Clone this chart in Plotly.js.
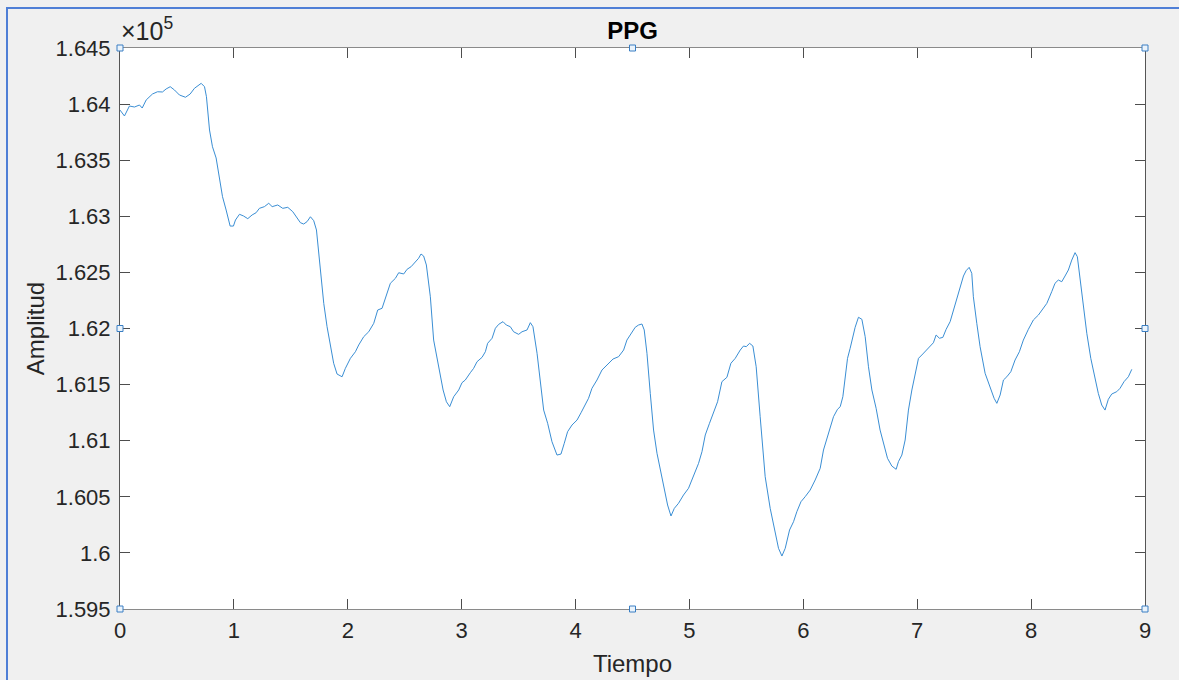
<!DOCTYPE html>
<html>
<head>
<meta charset="utf-8">
<script src="https://cdn.plot.ly/plotly-3.0.1.min.js"></script>
<style>
  html, body { margin:0; padding:0; background:#f0f0f0; overflow:hidden; }
  #wrap { position:relative; width:1179px; height:680px; }
  #chart { position:absolute; left:0; top:0; width:1179px; height:680px; }
  #frame { position:absolute; left:6px; top:7px; width:1200px; height:700px;
           border-left:2px solid #4f7fd6; border-top:2px solid #4f7fd6; pointer-events:none; }
</style>
</head>
<body>
<div id="wrap">
  <div id="chart"></div>
  <div id="frame"></div>
</div>
<script>
const titleText = 'PPG';
const xLabel = 'Tiempo';
const yLabel = 'Amplitud';
const xTicks = [0,1,2,3,4,5,6,7,8,9];
const xTickText = ['0','1','2','3','4','5','6','7','8','9'];
const yTicks = [159500,160000,160500,161000,161500,162000,162500,163000,163500,164000,164500];
const yTickText = ['1.595','1.6','1.605','1.61','1.615','1.62','1.625','1.63','1.635','1.64','1.645'];

const tiempo = [0,0.039,0.083,0.127,0.171,0.195,0.230,0.285,0.329,0.373,
0.405,0.441,0.478,0.522,0.575,0.616,0.654,0.689,0.713,0.742,
0.759,0.786,0.812,0.844,0.873,0.900,0.932,0.952,0.967,0.996,
1.014,1.049,1.084,1.122,1.160,1.195,1.224,1.268,1.306,1.336,
1.385,1.429,1.473,1.517,1.546,1.584,1.613,1.643,1.672,1.701,
1.725,1.760,1.789,1.818,1.847,1.876,1.906,1.950,1.979,2.023,
2.067,2.096,2.140,2.184,2.228,2.263,2.301,2.330,2.374,2.418,
2.447,2.491,2.521,2.556,2.585,2.622,2.643,2.666,2.690,2.725,
2.754,2.798,2.837,2.866,2.895,2.930,2.974,3.003,3.032,3.076,
3.105,3.135,3.179,3.208,3.228,3.267,3.296,3.325,3.363,3.392,
3.427,3.456,3.500,3.530,3.574,3.603,3.626,3.662,3.691,3.720,
3.755,3.793,3.837,3.872,3.901,3.930,3.969,4.013,4.048,4.085,
4.114,4.144,4.188,4.232,4.276,4.329,4.378,4.422,4.451,4.495,
4.524,4.553,4.583,4.603,4.627,4.656,4.685,4.715,4.744,4.773,
4.808,4.838,4.867,4.904,4.948,4.992,5.036,5.080,5.110,5.139,
5.176,5.211,5.247,5.285,5.329,5.364,5.402,5.446,5.475,5.499,
5.528,5.557,5.586,5.621,5.665,5.709,5.753,5.782,5.812,5.841,
5.879,5.914,5.943,5.979,6.016,6.060,6.104,6.148,6.177,6.207,
6.236,6.265,6.300,6.324,6.347,6.368,6.388,6.411,6.435,6.455,
6.484,6.514,6.543,6.572,6.602,6.639,6.674,6.710,6.739,6.777,
6.815,6.835,6.865,6.894,6.923,6.953,6.982,7.011,7.049,7.084,
7.120,7.142,7.166,7.195,7.225,7.254,7.289,7.318,7.348,7.377,
7.406,7.429,7.456,7.479,7.493,7.523,7.552,7.596,7.640,7.675,
7.699,7.728,7.757,7.787,7.822,7.859,7.897,7.932,7.976,8.020,
8.064,8.094,8.138,8.181,8.210,8.239,8.269,8.298,8.327,8.357,
8.386,8.406,8.430,8.459,8.489,8.524,8.562,8.590,8.620,8.649,
8.678,8.708,8.752,8.781,8.816,8.854,8.884];

const amplitud = [163947,163894,163983,163974,163992,163965,164037,164090,164110,164108,
164135,164155,164126,164081,164061,164090,164141,164170,164185,164155,
164066,163769,163620,163520,163353,163175,163056,162985,162913,162913,
162967,163018,163003,162979,163012,163032,163071,163086,163116,163086,
163101,163071,163080,163041,162996,162943,162931,162953,162996,162961,
162878,162551,162224,162016,161838,161690,161594,161570,161645,161734,
161793,161853,161927,161971,162046,162165,162180,162269,162403,162447,
162497,162486,162528,162551,162586,162626,162664,162646,162566,162283,
161897,161659,161452,161347,161303,161392,161452,161517,161541,161606,
161645,161704,161743,161793,161868,161913,162002,162037,162061,162031,
162016,161971,161948,161971,161987,162052,162016,161779,161541,161273,
161155,160991,160872,160881,160977,161080,161140,161184,161249,161318,
161378,161467,161541,161630,161675,161728,161749,161808,161897,161962,
162011,162031,162040,161987,161779,161422,161095,160888,160739,160590,
160427,160329,160397,160442,160516,160576,160679,160798,160902,161051,
161155,161244,161347,161526,161565,161690,161734,161808,161844,161838,
161868,161844,161659,161214,160679,160397,160174,160041,159972,160041,
160204,160278,160367,160456,160501,160560,160650,160754,160917,161021,
161125,161214,161280,161303,161392,161570,161734,161823,161921,162011,
162100,162082,161927,161659,161452,161289,161095,160946,160843,160774,
160745,160813,160872,161006,161273,161452,161601,161734,161773,161808,
161853,161873,161942,161913,161921,161993,162061,162165,162254,162358,
162468,162515,162545,162492,162283,162046,161838,161601,161467,161378,
161333,161407,161541,161570,161615,161719,161793,161897,161993,162076,
162120,162165,162224,162328,162403,162432,162417,162468,162521,162610,
162676,162640,162432,162194,161957,161734,161556,161422,161318,161273,
161369,161416,161437,161467,161526,161570,161636];

const handlePos = [[0,1],[0.5,1],[1,1],[0,0.5],[1,0.5],[0,0],[0.5,0],[1,0]];
const handles = handlePos.map(p => ({
  type:'rect', xref:'paper', yref:'paper',
  xsizemode:'pixel', ysizemode:'pixel', xanchor:p[0], yanchor:p[1],
  x0:-3, x1:3, y0:-3, y1:3,
  fillcolor:'#eaf3fb', line:{color:'#3a7fc4', width:1}
}));

const trace = {
  x: tiempo, y: amplitud, type:'scatter', mode:'lines',
  line:{color:'#3a8ed4', width:1}, hoverinfo:'skip'
};

const axisCommon = {
  ticks:'inside', ticklen:10, tickwidth:1, tickcolor:'#4d4d4d',
  showline:true, linewidth:1, mirror:'ticks',
  showgrid:false, zeroline:false, fixedrange:true,
  tickfont:{size:22, color:'#262626'}
};

const layout = {
  width:1179, height:680,
  paper_bgcolor:'#f0f0f0', plot_bgcolor:'#ffffff',
  margin:{l:120, r:34, t:48, b:71, pad:0},
  showlegend:false,
  font:{family:'Liberation Sans, Arial, sans-serif', color:'#262626'},
  title:{text:'<b>'+titleText+'</b>', font:{size:24, color:'#000000'},
         x:0.5, xref:'paper', xanchor:'center', y:1, yref:'paper', yanchor:'bottom', pad:{b:9}},
  xaxis: Object.assign({}, axisCommon, {
    range:[0,9], tickmode:'array', tickvals:xTicks, ticktext:xTickText,
    linecolor:'#8a8a8a', ticklabelstandoff:2,
    title:{text:xLabel, font:{size:24, color:'#262626'}, standoff:12}
  }),
  yaxis: Object.assign({}, axisCommon, {
    range:[159500,164500], tickmode:'array', tickvals:yTicks, ticktext:yTickText,
    linecolor:'#555555', ticklabelstandoff:4,
    title:{text:yLabel, font:{size:24, color:'#262626'}, standoff:4}
  }),
  annotations:[{
    text:'×10<sup>5</sup>', xref:'paper', yref:'paper', x:0, y:1,
    xanchor:'left', yanchor:'bottom', showarrow:false, xshift:-1, yshift:1,
    font:{size:25, color:'#262626'}
  }],
  shapes: handles
};

Plotly.newPlot('chart', [trace], layout, {displayModeBar:false, staticPlot:true});
</script>
</body>
</html>
